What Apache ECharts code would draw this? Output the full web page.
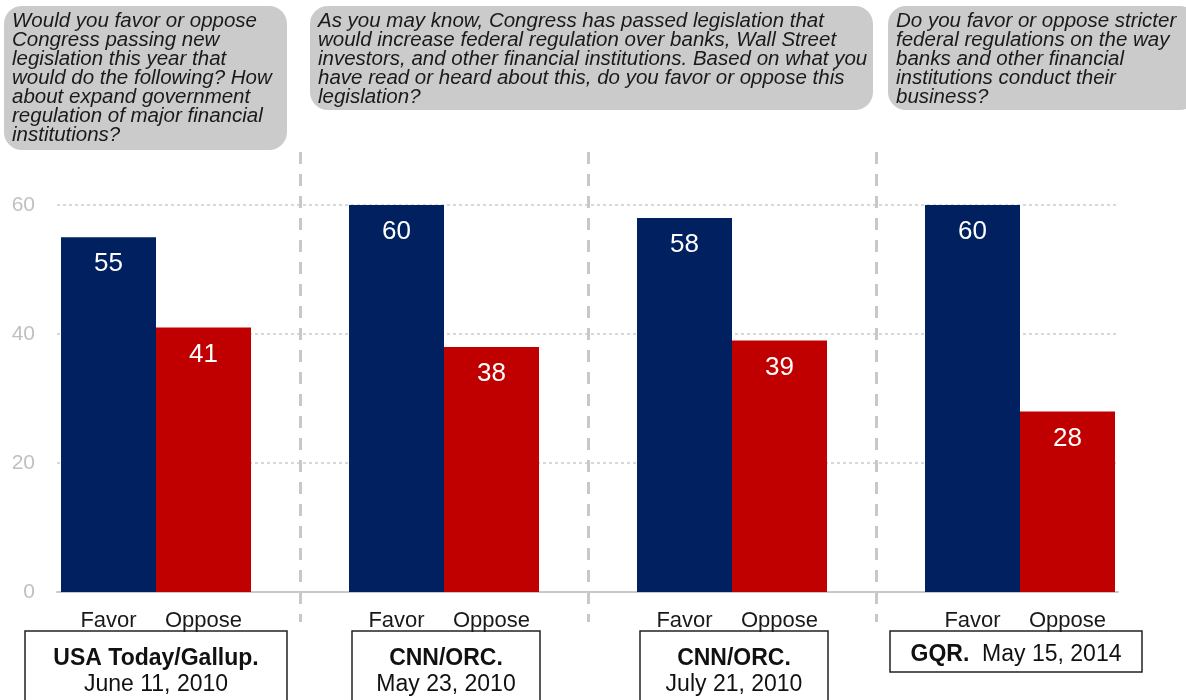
<!DOCTYPE html>
<html>
<head>
<meta charset="utf-8">
<script src="https://cdn.jsdelivr.net/npm/echarts@6/dist/echarts.min.js"></script>
<style>html,body{margin:0;padding:0;background:#fff}#c{width:1186px;height:700px}</style>
</head>
<body>
<div id="c"></div>
<script>
const sources = ['USA Today/Gallup.', 'CNN/ORC.', 'CNN/ORC.', 'GQR.'];
const dates = ['June 11, 2010', 'May 23, 2010', 'July 21, 2010', 'May 15, 2014'];
const barNames = ['Favor', 'Oppose'];
const favor = [55, 60, 58, 60];
const oppose = [41, 38, 39, 28];
const yMin = 0, yMax = 60, yStep = 20;
const questions = [
  'Would you favor or oppose\nCongress passing new\nlegislation this year that\nwould do the following? How\nabout expand government\nregulation of major financial\ninstitutions?',
  'As you may know, Congress has passed legislation that\nwould increase federal regulation over banks, Wall Street\ninvestors, and other financial institutions. Based on what you\nhave read or heard about this, do you favor or oppose this\nlegislation?',
  'Do you favor or oppose stricter\nfederal regulations on the way\nbanks and other financial\ninstitutions conduct their\nbusiness?'
];

const FONT = '"Liberation Sans", Arial, sans-serif';
const NAVY = '#00205f';
const RED = '#c00000';

const chart = echarts.init(document.getElementById('c'), null, {renderer: 'canvas'});

// question bubbles (layout)
const qBoxes = [
  {x: 4, y: 6, w: 283, h: 144},
  {x: 310, y: 6, w: 563, h: 104},
  {x: 888, y: 6, w: 310, h: 104}
];
// source boxes (layout)
const sBoxes = [
  {x: 25, y: 631, w: 262, h: 80, two: true},
  {x: 352, y: 631, w: 188, h: 80, two: true},
  {x: 640, y: 631, w: 188, h: 80, two: true},
  {x: 890, y: 631, w: 252, h: 41, two: false}
];

const graphics = [];
qBoxes.forEach((b, i) => {
  graphics.push({type: 'rect', shape: {x: b.x, y: b.y, width: b.w, height: b.h, r: 18}, style: {fill: '#cbcbcb'}, z: 1});
  graphics.push({type: 'text', x: b.x + 8, y: b.y + 6, z: 2, style: {
    text: questions[i], font: 'italic 20.5px ' + FONT, fill: '#1a1a1a', lineHeight: 19, verticalAlign: 'top', align: 'left'
  }});
});
sBoxes.forEach((b, i) => {
  graphics.push({type: 'rect', shape: {x: b.x, y: b.y, width: b.w, height: b.h}, style: {fill: 'none', stroke: '#222', lineWidth: 1.5}, z: 1});
  if (b.two) {
    graphics.push({type: 'text', x: b.x + b.w / 2, y: b.y + 28, z: 2, style: {
      text: sources[i], font: 'bold 23px ' + FONT, fill: '#111', align: 'center', verticalAlign: 'middle'
    }});
    graphics.push({type: 'text', x: b.x + b.w / 2, y: b.y + 54, z: 2, style: {
      text: dates[i], font: '23px ' + FONT, fill: '#111', align: 'center', verticalAlign: 'middle'
    }});
  } else {
    graphics.push({type: 'text', x: b.x + b.w / 2, y: b.y + 24, z: 2, style: {
      text: '{b|' + sources[i] + '}  ' + dates[i], font: '23px ' + FONT, fill: '#111', align: 'center', verticalAlign: 'middle',
      rich: {b: {font: 'bold 23px ' + FONT, fill: '#111'}}
    }});
  }
});

// pixel calibration for bar grid: y=0 at 592, y=60 at 205
const pxPerUnit = (592 - 205) / (yMax - yMin);
const g1Top = 152, g1Bottom = 622;
const g1Max = yMax + (205 - g1Top) / pxPerUnit;
const g1Min = yMin - (g1Bottom - 592) / pxPerUnit;

const option = {
  animation: false,
  backgroundColor: '#fff',
  textStyle: {fontFamily: FONT},
  grid: [
    {left: 57, right: 68, top: 205, bottom: 108},
    {left: 12, right: 22, top: g1Top, bottom: 700 - g1Bottom}
  ],
  xAxis: [
    {gridIndex: 0, type: 'value', min: 0, max: 1, axisLabel: {show: false}, axisTick: {show: false}, splitLine: {show: false},
     axisLine: {show: true, lineStyle: {color: '#c8c8c8', width: 2}}},
    {gridIndex: 1, type: 'category', data: dates, offset: -(g1Bottom - 592),
     axisLine: {show: false, onZero: false},
     axisTick: {show: false},
     splitLine: {show: true, showMinLine: false, showMaxLine: false, lineStyle: {color: '#c8c8c8', width: 3, type: [12, 10]}},
     axisLabel: {
       margin: 18,
       interval: 0,
       formatter: () => '{a|' + barNames[0] + '}{b|' + barNames[1] + '}',
       rich: {
         a: {width: 95, align: 'center', fontSize: 22, color: '#1a1a1a', fontFamily: FONT},
         b: {width: 95, align: 'center', fontSize: 22, color: '#1a1a1a', fontFamily: FONT}
       }
     }}
  ],
  yAxis: [
    {gridIndex: 0, type: 'value', min: yMin, max: yMax, interval: yStep,
     axisLine: {show: false}, axisTick: {show: false},
     axisLabel: {margin: 22, fontSize: 21, color: '#c0c0c0', fontFamily: FONT},
     splitLine: {show: true, lineStyle: {color: '#cccccc', width: 1.5, type: [3, 3]}}},
    {gridIndex: 1, type: 'value', min: g1Min, max: g1Max, show: false, splitLine: {show: false}}
  ],
  series: [
    {name: barNames[0], type: 'bar', xAxisIndex: 1, yAxisIndex: 1, data: favor, barWidth: 95, barGap: '0%',
     itemStyle: {color: NAVY},
     label: {show: true, position: 'insideTop', distance: 14, color: '#fff', fontSize: 26, fontFamily: FONT}},
    {name: barNames[1], type: 'bar', xAxisIndex: 1, yAxisIndex: 1, data: oppose, barWidth: 95, barGap: '0%',
     itemStyle: {color: RED},
     label: {show: true, position: 'insideTop', distance: 14, color: '#fff', fontSize: 26, fontFamily: FONT}}
  ],
  graphic: graphics
};
chart.setOption(option);
</script>
</body>
</html>
